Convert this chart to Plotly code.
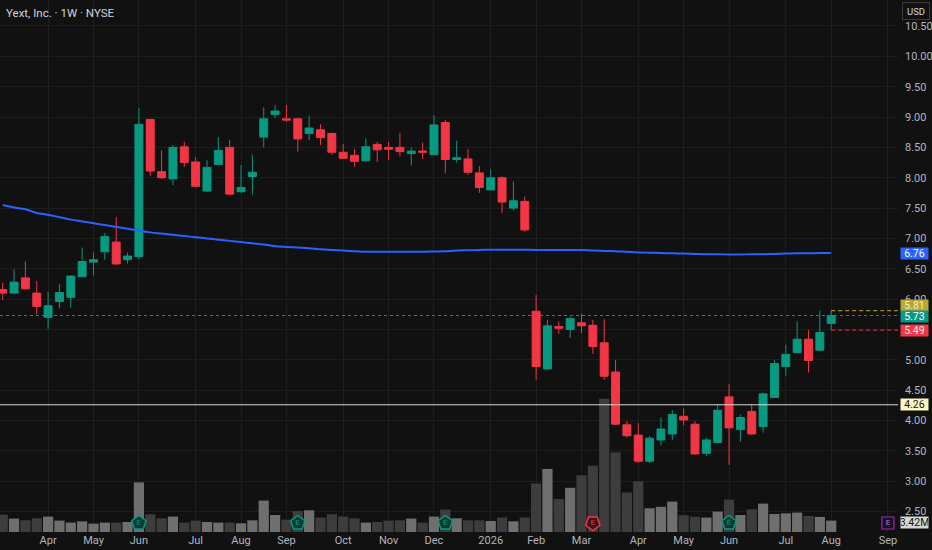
import pandas as pd
import plotly.graph_objects as go

# weekly candles, Yext (NYSE)
first_week = "2025-03-10"

open_ = [6.16, 6.10, 6.35, 6.10, 5.70, 5.96, 6.03, 6.37, 6.61, 6.78,
         6.94, 6.65, 6.70, 8.96, 8.10, 7.98, 8.51, 8.26, 7.78, 8.22,
         8.50, 7.77, 8.02, 8.67, 9.04, 8.97, 8.97, 8.73, 8.79, 8.73,
         8.42, 8.37, 8.28, 8.55, 8.50, 8.50, 8.40, 8.44, 8.38, 8.91,
         8.30, 8.31, 8.08, 7.80, 8.00, 7.50, 7.61, 5.80, 4.85, 5.55,
         5.50, 5.61, 5.57, 5.28, 4.80, 3.93, 3.76, 3.33, 3.68, 3.78,
         4.07, 3.94, 3.46, 3.64, 4.39, 3.85, 4.15, 3.90, 4.38, 4.89,
         5.12, 5.34, 5.16, 5.60]
high = [6.27, 6.49, 6.62, 6.30, 6.12, 6.25, 6.39, 6.85, 6.77, 7.09,
        7.35, 6.77, 9.15, 8.97, 8.45, 8.54, 8.59, 8.34, 8.29, 8.67,
        8.62, 8.21, 8.38, 9.16, 9.20, 9.20, 8.99, 9.02, 8.88, 8.74,
        8.56, 8.47, 8.65, 8.59, 8.59, 8.74, 8.50, 8.58, 9.03, 8.95,
        8.61, 8.47, 8.19, 8.14, 8.02, 7.94, 7.69, 6.07, 5.66, 5.63,
        5.71, 5.76, 5.66, 5.67, 5.00, 3.99, 3.96, 3.75, 4.05, 4.17,
        4.20, 3.99, 3.72, 4.26, 4.60, 4.10, 4.27, 4.46, 5.00, 5.25,
        5.63, 5.49, 5.81, 5.81]
low = [5.99, 6.08, 6.16, 5.75, 5.51, 5.85, 5.86, 6.36, 6.39, 6.65,
       6.56, 6.59, 6.66, 8.03, 7.98, 7.88, 8.18, 7.84, 7.77, 8.21,
       7.72, 7.75, 7.72, 8.50, 8.98, 8.92, 8.43, 8.62, 8.54, 8.38,
       8.31, 8.18, 8.26, 8.26, 8.29, 8.35, 8.20, 8.31, 8.37, 8.07,
       8.25, 8.05, 7.75, 7.79, 7.42, 7.46, 7.11, 4.67, 4.84, 5.43,
       5.36, 5.44, 5.10, 4.67, 3.93, 3.72, 3.30, 3.30, 3.59, 3.68,
       3.92, 3.44, 3.41, 3.63, 3.27, 3.65, 3.76, 3.80, 4.37, 4.74,
       5.11, 4.79, 5.15, 5.49]
close = [6.10, 6.28, 6.17, 5.88, 5.89, 6.11, 6.38, 6.62, 6.65, 7.03,
         6.58, 6.71, 8.88, 8.11, 8.00, 8.50, 8.25, 7.86, 8.17, 8.45,
         7.73, 7.84, 8.09, 8.97, 9.10, 8.95, 8.64, 8.82, 8.66, 8.42,
         8.32, 8.27, 8.51, 8.46, 8.47, 8.43, 8.44, 8.42, 8.87, 8.30,
         8.33, 8.09, 7.84, 8.00, 7.60, 7.62, 7.14, 4.89, 5.56, 5.52,
         5.68, 5.56, 5.22, 4.73, 3.94, 3.75, 3.33, 3.71, 3.86, 4.10,
         4.01, 3.45, 3.68, 4.17, 3.88, 4.05, 3.78, 4.44, 4.94, 5.09,
         5.34, 4.99, 5.45, 5.73]
# volume in millions of shares
volume = [5.22, 4.02, 3.51, 4.11, 4.62, 3.42, 2.82, 3.21, 2.52, 2.82,
          2.82, 3.00, 14.9, 5.31, 4.11, 4.62, 2.82, 3.42, 3.00, 2.82,
          2.82, 2.61, 3.51, 9.42, 5.10, 3.72, 6.30, 6.51, 4.32, 5.31,
          4.62, 4.11, 2.82, 3.00, 3.42, 3.51, 4.02, 2.82, 4.62, 6.72,
          4.11, 3.51, 3.51, 3.30, 4.35, 3.21, 4.35, 14.55, 18.9, 9.90,
          13.26, 17.0, 19.9, 40.0, 23.9, 11.85, 15.2, 7.11, 7.56, 9.12,
          5.01, 4.56, 4.32, 6.12, 9.72, 5.10, 6.81, 8.52, 5.40, 5.61,
          5.82, 4.80, 4.50, 3.42]
# blue moving average
ma = [7.55, 7.51, 7.48, 7.42, 7.39, 7.35, 7.31, 7.28, 7.25, 7.22,
      7.19, 7.16, 7.13, 7.10, 7.08, 7.06, 7.04, 7.02, 7.00, 6.98,
      6.96, 6.94, 6.92, 6.90, 6.87, 6.86, 6.85, 6.84, 6.82, 6.81,
      6.80, 6.79, 6.78, 6.78, 6.78, 6.78, 6.78, 6.78, 6.785, 6.79,
      6.80, 6.805, 6.81, 6.815, 6.815, 6.815, 6.815, 6.81, 6.81, 6.81,
      6.81, 6.81, 6.80, 6.795, 6.79, 6.78, 6.77, 6.765, 6.76, 6.755,
      6.75, 6.745, 6.74, 6.74, 6.735, 6.735, 6.74, 6.74, 6.745, 6.75,
      6.755, 6.755, 6.76, 6.76]

hline_level = 4.26

earnings_dates = ["2025-06-02", "2025-09-08", "2025-12-08", "2026-03-09", "2026-06-01"]
earnings_beat = [True, True, True, False, True]
next_earnings = "2026-09-07"

tick_dates = ["2025-04-07", "2025-05-05", "2025-06-02", "2025-07-07", "2025-08-04",
              "2025-09-01", "2025-10-06", "2025-11-03", "2025-12-01", "2026-01-05",
              "2026-02-02", "2026-03-02", "2026-04-06", "2026-05-04", "2026-06-01",
              "2026-07-06", "2026-08-03", "2026-09-07"]
tick_text = ["Apr", "May", "Jun", "Jul", "Aug", "Sep", "Oct", "Nov", "Dec", "2026",
             "Feb", "Mar", "Apr", "May", "Jun", "Jul", "Aug", "Sep"]

dates = pd.date_range(first_week, periods=len(close), freq="W-MON")

UP = "#089981"
DOWN = "#f23645"
BG = "#111111"
GRID = "#1e1e1e"
TXT = "#b2b5be"
FONT = "Roboto"

fig = go.Figure()

# volume overlay at the bottom of the pane
vol_colors = ["#6f6f6f" if c >= o else "#3d3d3d" for o, c in zip(open_, close)]
fig.add_trace(go.Bar(
    x=dates, y=volume, yaxis="y2", marker_color=vol_colors,
    marker_line_width=0, hoverinfo="skip", showlegend=False,
))

fig.add_trace(go.Scatter(
    x=dates, y=ma, mode="lines", line=dict(color="#2962ff", width=2, shape="spline"),
    hoverinfo="skip", showlegend=False,
))

fig.add_trace(go.Candlestick(
    x=dates, open=open_, high=high, low=low, close=close,
    increasing=dict(line=dict(color=UP, width=1), fillcolor=UP),
    decreasing=dict(line=dict(color=DOWN, width=1), fillcolor=DOWN),
    whiskerwidth=0, hoverinfo="skip", showlegend=False,
))

# earnings flags
marker_y = 2.7
fig.add_trace(go.Scatter(
    x=earnings_dates, y=[marker_y] * len(earnings_dates), yaxis="y2",
    mode="markers+text", text=["E"] * len(earnings_dates),
    textposition="middle center",
    textfont=dict(family=FONT, size=8, color=[UP if b else DOWN for b in earnings_beat]),
    marker=dict(
        symbol="pentagon", size=15,
        angle=[0 if b else 180 for b in earnings_beat],
        color=["#0c3a33" if b else "#3b1519" for b in earnings_beat],
        line=dict(color=[UP if b else DOWN for b in earnings_beat], width=1.5),
    ),
    hoverinfo="skip", showlegend=False, cliponaxis=False,
))
fig.add_trace(go.Scatter(
    x=[next_earnings], y=[marker_y], yaxis="y2", mode="markers+text", text=["E"],
    textposition="middle center", textfont=dict(family=FONT, size=8, color="#c27bd3"),
    marker=dict(symbol="square", size=12, color="#1a1020", line=dict(color="#9c27b0", width=1.2)),
    hoverinfo="skip", showlegend=False, cliponaxis=False,
))

x_end = "2026-09-13 05:00"

shapes = [
    dict(type="line", xref="paper", x0=0, x1=1, yref="y", y0=hline_level, y1=hline_level,
         line=dict(color="#d9d9d9", width=1)),
    dict(type="line", xref="paper", x0=0, x1=1, yref="y", y0=close[-1], y1=close[-1],
         line=dict(color=UP, width=1, dash="dot")),
    dict(type="line", xref="x", x0=dates[-1], x1=x_end, yref="y", y0=high[-1], y1=high[-1],
         line=dict(color="#b8a833", width=1, dash="4px,3px")),
    dict(type="line", xref="x", x0=dates[-1], x1=x_end, yref="y", y0=low[-1], y1=low[-1],
         line=dict(color=DOWN, width=1, dash="4px,3px")),
]


def price_tag(value, text, bg, fg, yref="y", yshift=0):
    return dict(
        xref="paper", x=1, xanchor="left", xshift=2, yref=yref, y=value, yshift=yshift,
        text=text, showarrow=False, bgcolor=bg, font=dict(family=FONT, size=10.5, color=fg),
        width=27, height=11, borderpad=0, align="center", valign="middle",
    )


# the high and last-price tags sit only a few px apart, so they are stacked
# like the axis labels in the terminal do
annotations = [
    dict(xref="paper", yref="paper", x=0, y=1, xanchor="left", yanchor="top",
         xshift=4, yshift=-4, showarrow=False, text="Yext, Inc. · 1W · NYSE",
         font=dict(family=FONT, size=11.5, color="#d1d4dc")),
    dict(xref="paper", yref="paper", x=1, y=1, xanchor="left", yanchor="top",
         xshift=4, yshift=-2, showarrow=False, text="USD", bgcolor=BG,
         bordercolor="#3a3a3a", borderwidth=1, borderpad=2, width=22, height=12,
         font=dict(family=FONT, size=9.5, color="#d1d4dc")),
    price_tag(ma[-1], f"{ma[-1]:.2f}", "#2962ff", "#ffffff"),
    price_tag(high[-1], f"{high[-1]:.2f}", "#b8a833", "#f4f0c8", yshift=5.5),
    price_tag(close[-1], f"{close[-1]:.2f}", UP, "#ffffff", yshift=-0.5),
    price_tag(low[-1], f"{low[-1]:.2f}", DOWN, "#ffe8ea"),
    price_tag(hline_level, f"{hline_level:.2f}", "#fff6c2", "#131313"),
    price_tag(volume[-1], f"{volume[-1]:.2f}M", "#d6d6d0", "#131313", yref="y2", yshift=-2),
]

fig.update_layout(
    width=932, height=550,
    margin=dict(l=0, r=34, t=0, b=18),
    paper_bgcolor=BG, plot_bgcolor=BG,
    font=dict(family=FONT, size=11, color=TXT),
    bargap=0.1,
    boxgap=0.3, boxgroupgap=0,
    xaxis=dict(
        type="date", range=["2025-03-08 08:00", x_end],
        tickvals=tick_dates, ticktext=tick_text,
        showgrid=True, gridcolor=GRID, gridwidth=1, zeroline=False, showline=False,
        ticks="", tickfont=dict(size=11, color=TXT), rangeslider=dict(visible=False),
        fixedrange=True,
    ),
    yaxis=dict(
        range=[2.164, 10.928], side="right", dtick=0.5, tickformat=".2f",
        showgrid=True, gridcolor=GRID, zeroline=False, showline=False, ticks="",
        ticklabelstandoff=6, tickfont=dict(size=11, color=TXT),
    ),
    yaxis2=dict(range=[0, 159.6], overlaying="y", visible=False, showgrid=False),
    shapes=shapes,
    annotations=annotations,
    showlegend=False,
)

# page body has a default margin; drop it so the figure fills the window
fig.write_html(
    "out.html",
    config={"displayModeBar": False},
    post_script="document.body.style.margin='0';document.body.style.background='#111111';",
)
